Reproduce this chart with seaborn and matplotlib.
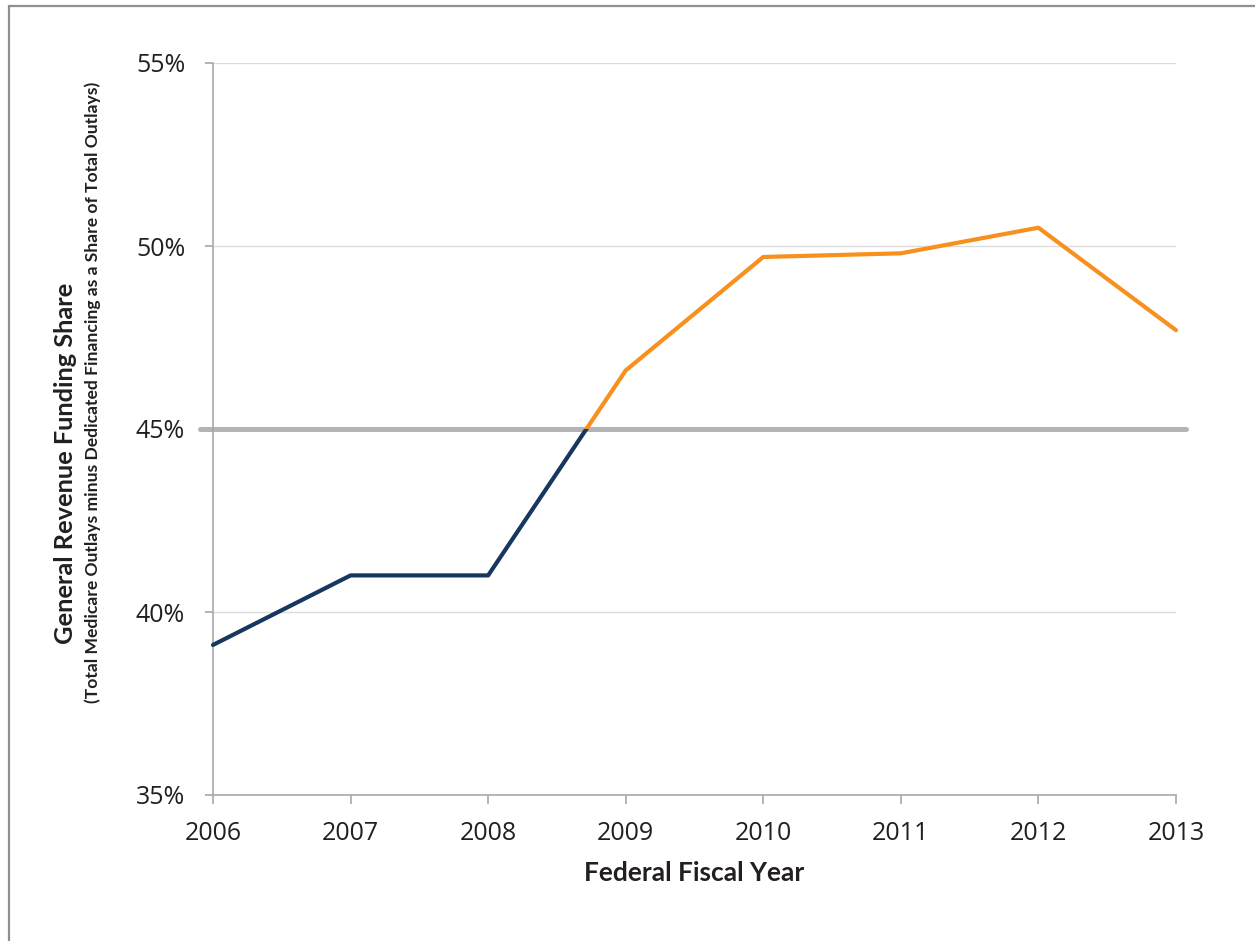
import matplotlib
matplotlib.use("Agg")
import matplotlib.pyplot as plt
import matplotlib.patches as mpatches
import seaborn as sns
import pandas as pd

# ---- data ----
years = [2006, 2007, 2008, 2009, 2010, 2011, 2012, 2013]
share = [39.1, 41.0, 41.0, 46.6, 49.7, 49.8, 50.5, 47.7]
threshold = 45.0
y_ticks = [35, 40, 45, 50, 55]
y_tick_labels = ["35%", "40%", "45%", "50%", "55%"]
x_label = "Federal Fiscal Year"
y_label_1 = "General Revenue Funding Share"
y_label_2 = "(Total Medicare Outlays minus Dedicated Financing as a Share of Total Outlays)"

NAVY = "#17375e"
ORANGE = "#f8901e"
THRESH = "#b4b4b8"
GRID = "#dcdcdc"
SPINE = "#a8a8a8"
TEXT = "#231f20"

sns.set_theme(style="white")
plt.rcParams["font.family"] = ["Open Sans", "DejaVu Sans"]

df = pd.DataFrame({"year": years, "share": share})

W, H = 1255, 941
fig = plt.figure(figsize=(W / 100, H / 100), dpi=100)
ax = fig.add_axes([213 / W, 1 - 795 / H, (1176 - 213) / W, (795 - 63) / H])

# outer frame (top and left edges visible)
frame = mpatches.Rectangle((8.5 / W, -0.05), 1.2, 1 - 5.5 / H + 0.05,
                           transform=fig.transFigure, fill=False,
                           edgecolor="#8f8f8f", linewidth=1.6, zorder=0)
fig.patches.append(frame)

ax.set_xlim(years[0], years[-1])
ax.set_ylim(y_ticks[0], y_ticks[-1])

# gridlines
for t in y_ticks[1:]:
    ax.axhline(t, color=GRID, linewidth=1.0, zorder=1)

# threshold line
ax.axhline(threshold, xmin=-0.0135, xmax=1.0104, color=THRESH,
           linewidth=3.6, zorder=2, clip_on=False)

# data line: navy below threshold, orange above
sns.lineplot(data=df, x="year", y="share", ax=ax, color=NAVY,
             linewidth=3.0, zorder=3)
navy_line = ax.lines[-1]
sns.lineplot(data=df, x="year", y="share", ax=ax, color=ORANGE,
             linewidth=3.0, zorder=4)
orange_line = ax.lines[-1]

low = mpatches.Rectangle((years[0] - 1, y_ticks[0] - 10), 20, threshold - y_ticks[0] + 10,
                         transform=ax.transData, visible=False)
high = mpatches.Rectangle((years[0] - 1, threshold), 20, 100,
                          transform=ax.transData, visible=False)
ax.add_patch(low)
ax.add_patch(high)
navy_line.set_clip_path(low)
orange_line.set_clip_path(high)

# spines
for s in ["top", "right"]:
    ax.spines[s].set_visible(False)
for s in ["left", "bottom"]:
    ax.spines[s].set_color(SPINE)
    ax.spines[s].set_linewidth(1.2)

ax.set_yticks(y_ticks)
ax.set_yticklabels(y_tick_labels)
ax.set_xticks(years)
ax.set_xticklabels([str(y) for y in years])
ax.tick_params(axis="y", direction="out", length=6, width=1.2, color=SPINE,
               pad=14, labelsize=18, labelcolor=TEXT, left=True)
ax.tick_params(axis="x", direction="out", length=6.5, width=1.2, color=SPINE,
               pad=12, labelsize=18, labelcolor=TEXT, bottom=True)

ax.set_xlabel("")
ax.set_ylabel("")

fig.text(694 / W, 1 - 873 / H, x_label, ha="center", va="center",
         fontsize=19, fontweight="bold", color=TEXT, family=["Lato", "DejaVu Sans"])
fig.text(66 / W, 1 - 463 / H, y_label_1, ha="center", va="center", rotation=90,
         fontsize=18.3, fontweight="bold", color=TEXT, family=["Lato", "DejaVu Sans"])
fig.text(93 / W, 1 - 392 / H, y_label_2, ha="center", va="center", rotation=90,
         fontsize=12.6, fontweight="bold", color=TEXT, family=["Lato", "DejaVu Sans"])

fig.savefig("out.png", dpi=100, facecolor="white")
